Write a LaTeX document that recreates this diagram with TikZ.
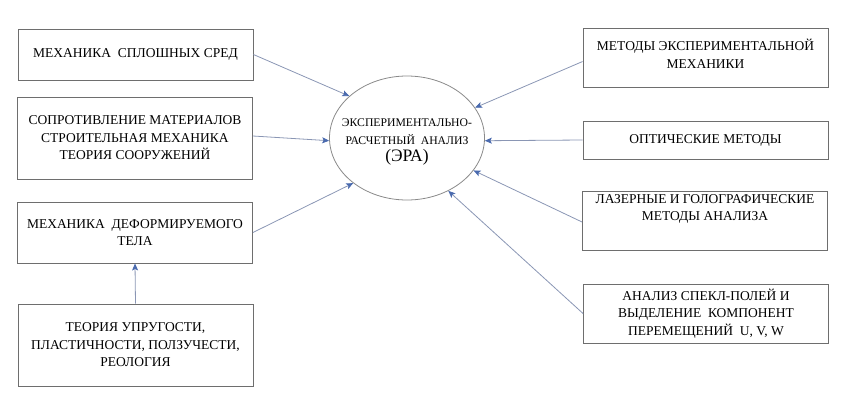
\documentclass[tikz,border=0pt]{standalone}
\usepackage{fontspec}
\setmainfont{Liberation Serif}
\usetikzlibrary{shapes.geometric,arrows.meta}
\definecolor{boxline}{HTML}{6E6E6E}
\definecolor{ellline}{HTML}{8A8A8A}
\definecolor{conline}{HTML}{8A96B4}
\definecolor{headcol}{HTML}{4A6AAE}
\tikzset{
  box/.style={draw=boxline, line width=0.9pt, rectangle, inner sep=0pt, align=center, font=\fontsize{13.5}{17.5}\selectfont},
  lbox/.style={box, minimum width=235pt},
  rbox/.style={box, minimum width=245pt},
  txt/.style={inner sep=0pt, align=center, font=\fontsize{13.5}{17.5}\selectfont},
  conn/.style={draw=conline, line width=0.8pt, -{Stealth[length=7pt,width=6pt,inset=1.5pt,color=headcol]}},
}
\begin{document}
\begin{tikzpicture}[x=1pt,y=-1pt]
\useasboundingbox (0,0) rectangle (846,413);
% left column
\node[lbox, minimum height=51pt] (b1) at (135.5,54.5) {МЕХАНИКА\ \ СПЛОШНЫХ СРЕД};
\node[lbox, minimum height=82pt] (b2) at (135,138) {СОПРОТИВЛЕНИЕ МАТЕРИАЛОВ\\СТРОИТЕЛЬНАЯ МЕХАНИКА\\ТЕОРИЯ СООРУЖЕНИЙ};
\node[lbox, minimum height=61pt] (b3) at (135,232.5) {МЕХАНИКА\ \ ДЕФОРМИРУЕМОГО\\ТЕЛА};
\node[lbox, minimum height=82pt] (b4) at (135.5,345) {ТЕОРИЯ УПРУГОСТИ,\\ПЛАСТИЧНОСТИ, ПОЛЗУЧЕСТИ,\\РЕОЛОГИЯ};
% centre
\node[ellipse, draw=ellline, line width=0.8pt, minimum width=155pt, minimum height=124pt, inner sep=0pt] (era) at (407,138) {};
\node[txt, font=\fontsize{11.7}{17.5}\selectfont] (eratext) at (407,142) {ЭКСПЕРИМЕНТАЛЬНО-\\РАСЧЕТНЫЙ\ \ АНАЛИЗ\\{\fontsize{17.5}{17.5}\selectfont (ЭРА)}};
% right column
\node[rbox, minimum height=59pt] (b5) at (705.5,57.5) {};
\node[txt] (t5) at (705.5,54) {МЕТОДЫ ЭКСПЕРИМЕНТАЛЬНОЙ\\МЕХАНИКИ};
\node[rbox, minimum height=38pt] (b6) at (705.5,140) {ОПТИЧЕСКИЕ МЕТОДЫ};
\node[rbox, minimum height=59pt] (b7) at (705,220.5) {};
\node[txt] (t7) at (705,209) {ЛАЗЕРНЫЕ И ГОЛОГРАФИЧЕСКИЕ\\МЕТОДЫ АНАЛИЗА};
\node[rbox, minimum height=59pt] (b8) at (706,313.5) {АНАЛИЗ СПЕКЛ-ПОЛЕЙ И\\ВЫДЕЛЕНИЕ\ \ КОМПОНЕНТ\\ПЕРЕМЕЩЕНИЙ\ \ U, V, W};
% connectors
\draw[conn] (b1.east) -- (era.144);
\draw[conn] ([yshift=2pt]b2.east) -- (era.182);
\draw[conn] (b3.east) -- (era.220);
\draw[conn] (b4.north) -- (b3.south);
\draw[conn] ([yshift=-4pt]b5.west) -- (era.24);
\draw[conn] (b6.west) -- (era.358);
\draw[conn] ([yshift=-1.5pt]b7.west) -- (era.334);
\draw[conn] (b8.west) -- (era.308);
\end{tikzpicture}
\end{document}
